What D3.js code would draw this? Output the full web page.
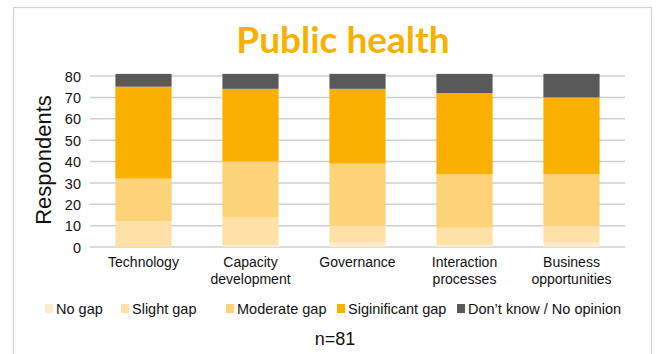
<!DOCTYPE html>
<html>
<head>
<meta charset="utf-8">
<script src="https://cdn.jsdelivr.net/npm/d3@7"></script>
<style>
  html, body { margin: 0; padding: 0; background: #fff; }
  svg { display: block; }
</style>
</head>
<body>
<svg id="chart" width="657" height="354"></svg>
<script>
// Survey topics (x categories)
const categories = [
  ["Technology"],
  ["Capacity", "development"],
  ["Governance"],
  ["Interaction", "processes"],
  ["Business", "opportunities"]
];
const categoryKeys = ["Technology", "Capacity development", "Governance", "Interaction processes", "Business opportunities"];

// Respondent counts per answer, one value per category
const seriesNames = ["No gap", "Slight gap", "Moderate gap", "Siginificant gap", "Don\u2019t know / No opinion"];
const noGap        = [0, 1, 2, 1, 2];
const slightGap    = [12, 13, 8, 8, 8];
const moderateGap  = [20, 26, 29, 25, 24];
const significant  = [43, 34, 35, 38, 36];
const dontKnow     = [6, 7, 7, 9, 11];

const yTicks = [0, 10, 20, 30, 40, 50, 60, 70, 80];
const colors = ["#FEEBCB", "#FFE0A6", "#FDD37A", "#F9B000", "#595959"];

const seriesValues = [noGap, slightGap, moderateGap, significant, dontKnow];
const rows = categoryKeys.map((c, i) => {
  const r = { category: c };
  seriesNames.forEach((s, j) => { r[s] = seriesValues[j][i]; });
  return r;
});

const svg = d3.select("#chart");

// outer frame
svg.append("rect")
  .attr("x", 13.5).attr("y", 7.5)
  .attr("width", 638).attr("height", 360)
  .attr("fill", "none").attr("stroke", "#D4D4D4").attr("stroke-width", 1.2);

const plot = { left: 90, right: 625, top: 76, bottom: 247 };

const x = d3.scaleBand()
  .domain(categoryKeys)
  .range([plot.left, plot.right])
  .paddingInner(0.475)
  .paddingOuter(0.2375);

const y = d3.scaleLinear()
  .domain([0, 80])
  .range([plot.bottom, plot.top]);

// gridlines
svg.append("g")
  .selectAll("line")
  .data(yTicks)
  .join("line")
  .attr("x1", plot.left).attr("x2", plot.right)
  .attr("y1", d => y(d)).attr("y2", d => y(d))
  .attr("stroke", "#CFCFCF").attr("stroke-width", 1.5);

// y axis labels
const yAxis = d3.axisLeft(y).tickValues(yTicks).tickSize(0).tickPadding(0);
const gy = svg.append("g")
  .attr("transform", `translate(${plot.left - 9},0)`)
  .call(yAxis);
gy.select(".domain").remove();
gy.selectAll("text")
  .attr("font-family", "Liberation Sans, Arial, sans-serif")
  .attr("font-size", 14.5)
  .attr("fill", "#111")
  .attr("dy", "0.36em");

// stacked bars
const stack = d3.stack().keys(seriesNames);
const layers = stack(rows);

svg.append("g")
  .selectAll("g")
  .data(layers)
  .join("g")
  .attr("fill", (d, i) => colors[i])
  .selectAll("rect")
  .data(d => d)
  .join("rect")
  .attr("x", d => x(d.data.category))
  .attr("width", x.bandwidth())
  .attr("y", d => y(d[1]))
  .attr("height", d => y(d[0]) - y(d[1]));

// x category labels (wrapped)
const xl = svg.append("g")
  .selectAll("text")
  .data(categories)
  .join("text")
  .attr("x", (d, i) => x(categoryKeys[i]) + x.bandwidth() / 2)
  .attr("y", 267)
  .attr("text-anchor", "middle")
  .attr("font-family", "Liberation Sans, Arial, sans-serif")
  .attr("font-size", 14)
  .attr("fill", "#111");
xl.selectAll("tspan")
  .data(d => d)
  .join("tspan")
  .attr("x", function () { return d3.select(this.parentNode).attr("x"); })
  .attr("dy", (d, i) => i === 0 ? 0 : 16.5)
  .text(d => d);

// y axis title
svg.append("text")
  .attr("transform", "translate(51,160) rotate(-90)")
  .attr("text-anchor", "middle")
  .attr("font-family", "Liberation Sans, Arial, sans-serif")
  .attr("font-size", 22)
  .attr("fill", "#111")
  .text("Respondents");

// title
svg.append("text")
  .attr("x", 343).attr("y", 53)
  .attr("text-anchor", "middle")
  .attr("font-family", "Lato, sans-serif")
  .attr("font-weight", "bold")
  .attr("font-size", 37)
  .attr("fill", "#F9B000")
  .text("Public health");

// legend
const legendX = [45, 121, 226, 337, 457];
const lg = svg.append("g")
  .selectAll("g")
  .data(seriesNames)
  .join("g")
  .attr("transform", (d, i) => `translate(${legendX[i]},309)`);
lg.append("rect")
  .attr("x", 0).attr("y", -5).attr("width", 8).attr("height", 9)
  .attr("fill", (d, i) => colors[i]);
lg.append("text")
  .attr("x", 11).attr("y", 0).attr("dy", "0.35em")
  .attr("font-family", "Liberation Sans, Arial, sans-serif")
  .attr("font-size", 14.5)
  .attr("fill", "#111")
  .text(d => d);

// sample size
svg.append("text")
  .attr("x", 335).attr("y", 339).attr("dy", "0.35em")
  .attr("text-anchor", "middle")
  .attr("font-family", "Liberation Sans, Arial, sans-serif")
  .attr("font-size", 18)
  .attr("fill", "#111")
  .text("n=81");
</script>
</body>
</html>
